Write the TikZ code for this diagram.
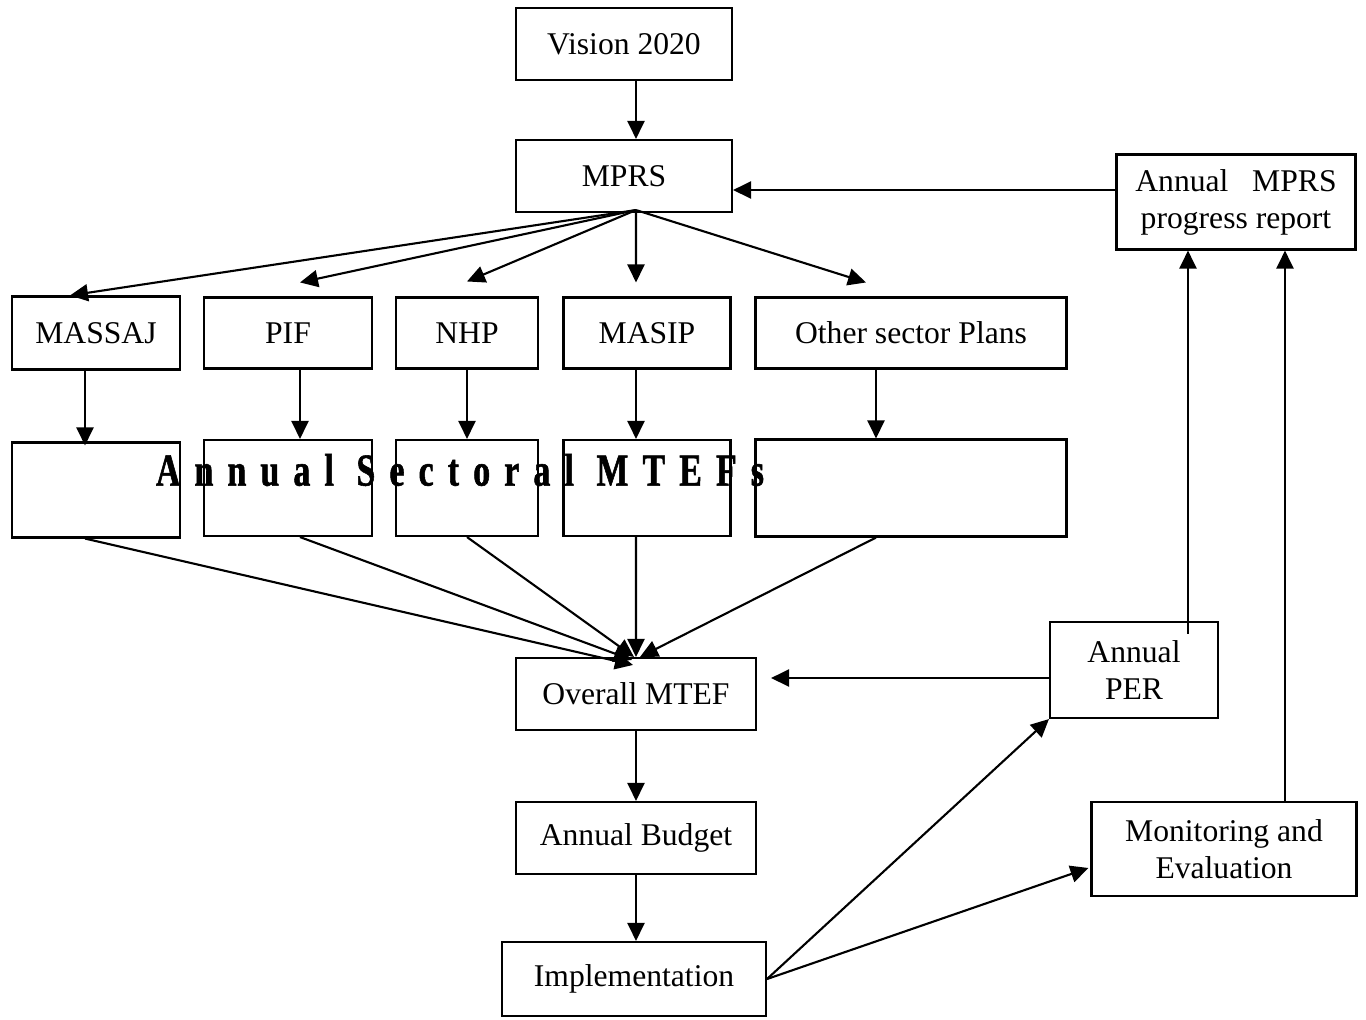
\documentclass[tikz,border=0pt]{standalone}
\usepackage{fontspec}
\setmainfont{Liberation Serif}
\newfontfamily\spacedbold[LetterSpace=31,FakeStretch=0.74,FakeBold=1.2]{Liberation Serif}
\usepackage{tikz}
\usetikzlibrary{arrows.meta,positioning}

\begin{document}
\begin{tikzpicture}[x=0.02cm,y=-0.02cm,>={Triangle[length=0.36cm,width=0.34cm]},
    line width=1.2pt,font=\fontsize{18}{21}\selectfont,
    block/.style={draw,fill=white,inner sep=2pt,align=center},
    flow/.style={->,shorten >=0pt}]

  \useasboundingbox (0,0) rectangle (1366,1019);

  % top of the chain
  \node[block,minimum width=4.32cm,minimum height=1.44cm] (vision) at (624,44)  {Vision 2020};
  \node[block,minimum width=4.32cm,minimum height=1.44cm] (mprs)   at (624,176) {MPRS};
  \node[block,minimum width=4.78cm,minimum height=1.9cm]  (report) at (1236,202)
       {Annual\hspace{0.75em}MPRS\\progress report};

  % sector plans
  \node[block,minimum width=3.36cm,minimum height=1.46cm] (massaj) at (96,333)  {MASSAJ};
  \node[block,minimum width=3.36cm,minimum height=1.42cm] (pif)    at (288,333) {PIF};
  \node[block,minimum width=2.84cm,minimum height=1.42cm] (nhp)    at (467,333) {NHP};
  \node[block,minimum width=3.34cm,minimum height=1.42cm] (masip)  at (647,333) {MASIP};
  \node[block,minimum width=6.22cm,minimum height=1.42cm] (other)  at (911,333) {Other sector Plans};

  % annual sectoral MTEFs
  \node[block,minimum width=3.36cm,minimum height=1.9cm]  (s1) at (96,490)  {};
  \node[block,minimum width=3.36cm,minimum height=1.92cm] (s2) at (288,488) {};
  \node[block,minimum width=2.84cm,minimum height=1.92cm] (s3) at (467,488) {};
  \node[block,minimum width=3.34cm,minimum height=1.92cm] (s4) at (647,488) {};
  \node[block,minimum width=6.22cm,minimum height=1.94cm] (s5) at (911,488) {};
  \node[font=\spacedbold\bfseries\fontsize{26}{28}\selectfont,inner sep=0pt] (mtefs) at (460,470)
       {Annual Sectoral MTEFs};

  % lower chain
  \node[block,minimum width=4.8cm,minimum height=1.44cm]  (overall) at (636,694) {Overall MTEF};
  \node[block,minimum width=4.8cm,minimum height=1.44cm]  (budget)  at (636,838) {Annual Budget};
  \node[block,minimum width=5.28cm,minimum height=1.48cm] (impl)    at (634,979) {Implementation};
  \node[block,minimum width=3.36cm,minimum height=1.92cm] (per)     at (1134,670) {Annual\\PER};
  \node[block,minimum width=5.3cm,minimum height=1.88cm]  (me)      at (1224,849)
       {Monitoring and\\Evaluation};

  \coordinate (fan) at ([xshift=0.24cm,yshift=0.06cm]mprs.south);

  % Vision -> MPRS -> plans
  \draw[flow] ([xshift=0.24cm]vision.south) -- ([xshift=0.24cm]mprs.north);
  \draw[flow] (fan) -- ([xshift=-0.52cm]massaj.north);
  \draw[flow] (fan) -- ([xshift=0.24cm,yshift=0.28cm]pif.north);
  \draw[flow] (fan) -- ([yshift=0.3cm]nhp.north);
  \draw[flow] (fan) -- ([xshift=-0.22cm,yshift=0.28cm]masip.north);
  \draw[flow] (fan) -- ([xshift=-0.9cm,yshift=0.28cm]other.north);

  % plans -> sectoral MTEFs
  \draw[flow] ([xshift=-0.22cm]massaj.south) -- ([xshift=-0.22cm,yshift=-0.08cm]s1.north);
  \draw[flow] ([xshift=0.24cm]pif.south) -- ([xshift=0.24cm]s2.north);
  \draw[flow] (nhp.south) -- (s3.north);
  \draw[flow] ([xshift=-0.22cm]masip.south) -- ([xshift=-0.22cm]s4.north);
  \draw[flow] ([xshift=-0.7cm]other.south) -- ([xshift=-0.7cm]s5.north);

  % sectoral MTEFs -> overall MTEF
  \draw[flow] ([xshift=-0.22cm]s1.south) -- ([xshift=-0.06cm,yshift=-0.16cm]overall.north);
  \draw[flow] ([xshift=0.24cm]s2.south) -- ([xshift=-0.08cm,yshift=-0.06cm]overall.north);
  \draw[flow] (s3.south) -- ([xshift=-0.04cm]overall.north);
  \draw[flow] ([xshift=-0.22cm]s4.south) -- (overall.north);
  \draw[flow] ([xshift=-0.7cm]s5.south) -- ([xshift=0.08cm]overall.north);

  % budget cycle
  \draw[flow] (overall.south) -- (budget.north);
  \draw[flow] (budget.south) -- (budget.south |- impl.north);
  \draw[flow] (impl.east) -- (per.south west);
  \draw[flow] (impl.east) -- ([xshift=-0.04cm,yshift=-0.38cm]me.west);

  % reporting back
  \draw[flow,shorten >=0.28cm] ([yshift=-0.16cm]per.west) -- ([yshift=-0.16cm]per.west -| overall.east);
  \draw[flow] ([xshift=1.08cm,yshift=-0.26cm]per.north) -- ([xshift=1.08cm]per.north |- report.south);
  \draw[flow] ([xshift=1.22cm]me.north) -- ([xshift=1.22cm]me.north |- report.south);
  \draw[flow] ([yshift=0.24cm]report.west) -- ([yshift=0.24cm]report.west -| mprs.east);

\end{tikzpicture}
\end{document}
